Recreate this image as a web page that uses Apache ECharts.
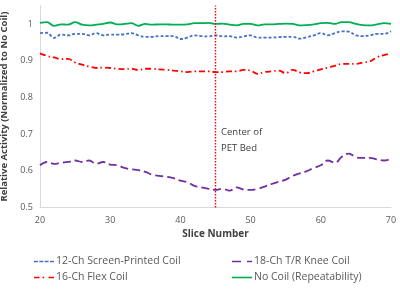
<!DOCTYPE html>
<html>
<head>
<meta charset="utf-8">
<script src="https://cdn.jsdelivr.net/npm/echarts@6/dist/echarts.min.js"></script>
<style>
    html, body { margin: 0; padding: 0; background: #fff; }
    #chart { width: 400px; height: 289px; }
</style>
</head>
<body>
<div id="chart"></div>
<script>
    var slices = [20, 21, 22, 23, 24, 25, 26, 27, 28, 29, 30, 31, 32, 33, 34, 35, 36, 37, 38, 39,
        40, 41, 42, 43, 44, 45, 46, 47, 48, 49, 50, 51, 52, 53, 54, 55, 56, 57, 58, 59,
        60, 61, 62, 63, 64, 65, 66, 67, 68, 69, 70];

    var screenPrinted = [0.975, 0.976, 0.962, 0.971, 0.969, 0.973, 0.973, 0.969, 0.975, 0.969,
        0.971, 0.971, 0.972, 0.975, 0.969, 0.965, 0.965, 0.967, 0.967, 0.967,
        0.959, 0.963, 0.969, 0.967, 0.966, 0.969, 0.966, 0.967, 0.963, 0.966,
        0.969, 0.963, 0.963, 0.963, 0.964, 0.965, 0.965, 0.960, 0.964, 0.969,
        0.975, 0.969, 0.975, 0.980, 0.979, 0.969, 0.967, 0.969, 0.973, 0.973, 0.980];

    var kneeCoil = [0.615, 0.624, 0.619, 0.622, 0.624, 0.628, 0.624, 0.628, 0.619, 0.624,
        0.617, 0.615, 0.608, 0.604, 0.602, 0.597, 0.589, 0.586, 0.584, 0.580,
        0.573, 0.569, 0.559, 0.555, 0.551, 0.548, 0.551, 0.546, 0.555, 0.549,
        0.548, 0.551, 0.557, 0.564, 0.570, 0.576, 0.586, 0.593, 0.599, 0.608,
        0.615, 0.628, 0.622, 0.638, 0.647, 0.637, 0.635, 0.635, 0.631, 0.628, 0.633];

    var flexCoil = [0.920, 0.913, 0.909, 0.904, 0.905, 0.895, 0.889, 0.884, 0.880, 0.881,
        0.880, 0.878, 0.877, 0.878, 0.875, 0.878, 0.878, 0.876, 0.875, 0.873,
        0.871, 0.869, 0.871, 0.871, 0.871, 0.869, 0.869, 0.871, 0.871, 0.875,
        0.873, 0.864, 0.869, 0.871, 0.873, 0.866, 0.875, 0.868, 0.866, 0.871,
        0.876, 0.881, 0.886, 0.891, 0.891, 0.891, 0.895, 0.898, 0.909, 0.915, 0.920];

    var noCoil = [1.003, 1.005, 0.995, 0.999, 0.998, 1.005, 0.998, 0.996, 0.998, 1.000,
        1.004, 0.999, 1.000, 1.002, 0.995, 1.000, 0.998, 0.999, 0.999, 0.998,
        0.998, 0.999, 1.002, 1.002, 1.003, 1.000, 1.001, 0.998, 0.996, 1.000,
        1.000, 0.996, 0.999, 0.999, 1.000, 1.001, 1.000, 0.996, 0.997, 0.999,
        1.002, 1.003, 1.000, 1.005, 1.005, 1.000, 0.997, 0.996, 0.999, 1.002, 1.000];

    var centerSlice = 45;
    var yTicks = [0.5, 0.6, 0.7, 0.8, 0.9, 1];

    function pairs(values) {
        return slices.map(function (s, i) { return [s, values[i]]; });
    }

    // legend swatches drawn as little dash patterns (20 x 1.6)
    var iconDash = 'path://M0,0h4v1.6h-4z M5.3,0h4v1.6h-4z M10.6,0h4v1.6h-4z M16,0h4v1.6h-4z';
    var iconDashDot = 'path://M0,0h5.5v1.6h-5.5z M8.5,0h1.6v1.6h-1.6z M14.5,0h5.5v1.6h-5.5z';
    var iconLongDash = 'path://M0,0h9v1.6h-9z M15,0h5v1.6h-5z';
    var iconSolid = 'path://M0,0h20v1.6h-20z';

    var font = '"Open Sans", "Noto Sans", sans-serif';
    var chart = echarts.init(document.getElementById('chart'));
    chart.setOption({
        animation: false,
        grid: { left: 40, right: 9, top: 5.6, bottom: 81.5, outerBoundsMode: 'none', containLabel: false },
        xAxis: {
            type: 'value',
            min: 20,
            max: 70,
            interval: 10,
            name: 'Slice Number',
            nameLocation: 'middle',
            nameGap: 21,
            nameTextStyle: { fontFamily: font, fontWeight: 'bold', fontSize: 10, color: '#404040' },
            axisLine: { lineStyle: { color: '#d9d9d9' } },
            axisTick: { show: false },
            splitLine: { show: false },
            axisLabel: { fontFamily: font, fontSize: 9, color: '#595959', margin: 8 }
        },
        yAxis: {
            type: 'value',
            min: 0.5,
            max: 1.05,
            interval: 0.1,
            name: 'Relative Activity (Normalized to No Coil)',
            nameLocation: 'middle',
            nameGap: 24,
            nameTextStyle: { fontFamily: font, fontWeight: 'bold', fontSize: 9.5, color: '#404040' },
            axisLine: { show: true, lineStyle: { color: '#d9d9d9' } },
            axisTick: { show: false },
            splitLine: { show: false },
            axisLabel: {
                fontFamily: font, fontSize: 9, color: '#595959', margin: 7,
                formatter: function (v) {
                    var r = Math.round(v * 10) / 10;
                    return yTicks.indexOf(r) >= 0 && Math.abs(v - r) < 1e-6 ? String(r) : '';
                }
            }
        },
        legend: [{
            left: 29, top: 251, orient: 'vertical', itemWidth: 20, itemHeight: 1.6, itemGap: 5,
            textStyle: { fontFamily: font, fontSize: 10.5, color: '#595959', padding: [0, 0, 0, -3] },
            data: [
                { name: '12-Ch Screen-Printed Coil', icon: iconDash },
                { name: '16-Ch Flex Coil', icon: iconDashDot }
            ]
        }, {
            left: 227, top: 251, orient: 'vertical', itemWidth: 20, itemHeight: 1.6, itemGap: 5,
            textStyle: { fontFamily: font, fontSize: 10.5, color: '#595959', padding: [0, 0, 0, -3] },
            data: [
                { name: '18-Ch T/R Knee Coil', icon: iconLongDash },
                { name: 'No Coil (Repeatability)', icon: iconSolid }
            ]
        }],
        graphic: [{
            type: 'text',
            left: 221,
            top: 124,
            style: {
                text: 'Center of\nPET Bed',
                font: '9.5px ' + font,
                fill: '#404040',
                lineHeight: 16
            }
        }],
        series: [
            {
                name: '12-Ch Screen-Printed Coil',
                type: 'line', smooth: 0.4, symbol: 'none',
                data: pairs(screenPrinted),
                lineStyle: { color: '#4472c4', width: 1.8, type: [3, 2] },
                itemStyle: { color: '#4472c4' }
            },
            {
                name: '18-Ch T/R Knee Coil',
                type: 'line', smooth: 0.4, symbol: 'none',
                data: pairs(kneeCoil),
                lineStyle: { color: '#7030a0', width: 1.8, type: [8, 4] },
                itemStyle: { color: '#7030a0' }
            },
            {
                name: '16-Ch Flex Coil',
                type: 'line', smooth: 0.4, symbol: 'none',
                data: pairs(flexCoil),
                lineStyle: { color: '#ff0000', width: 1.8, type: [6, 3, 1.5, 3] },
                itemStyle: { color: '#ff0000' }
            },
            {
                name: 'No Coil (Repeatability)',
                type: 'line', smooth: 0.4, symbol: 'none',
                data: pairs(noCoil),
                lineStyle: { color: '#00b050', width: 1.8 },
                itemStyle: { color: '#00b050' },
                markLine: {
                    silent: true,
                    symbol: 'none',
                    label: { show: false },
                    lineStyle: { color: '#ff0000', type: [1.5, 1.5], width: 1.4 },
                    data: [{ xAxis: centerSlice }]
                }
            }
        ]
    });
</script>
</body>
</html>
